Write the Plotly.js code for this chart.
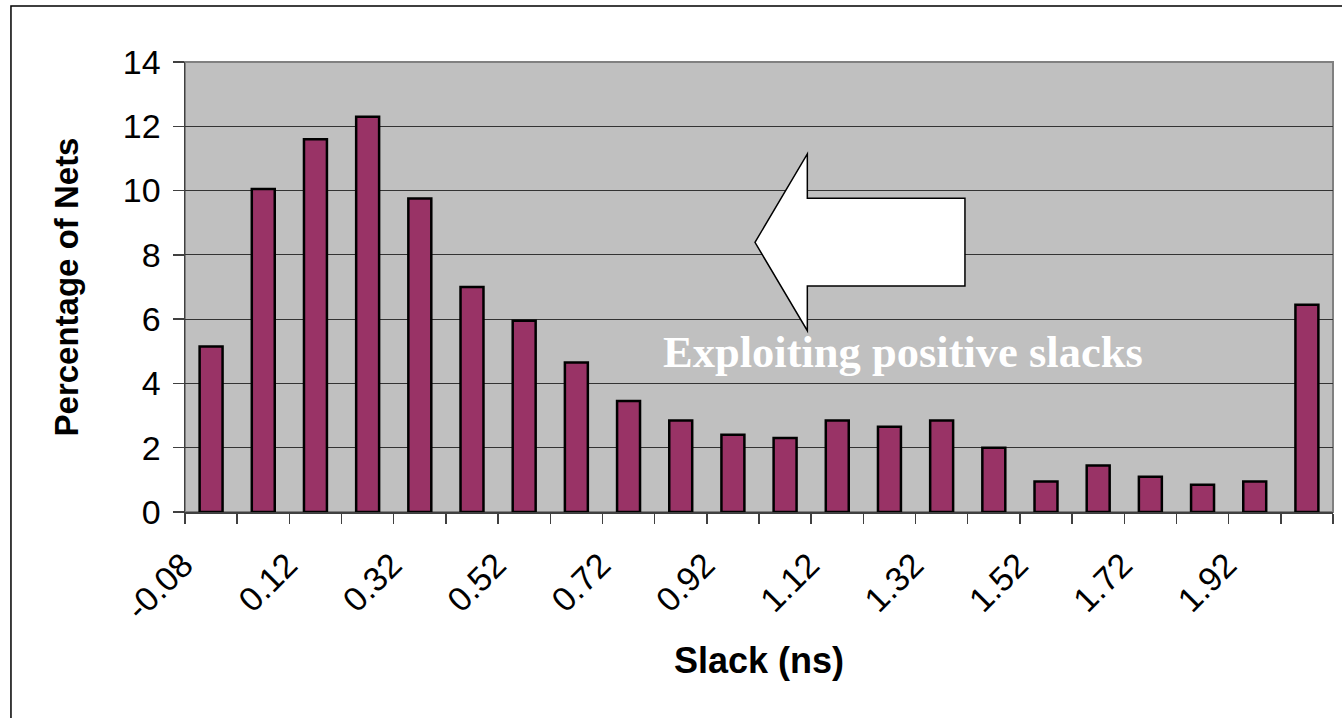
<!DOCTYPE html>
<html>
<head>
<meta charset="utf-8">
<script src="https://cdn.plot.ly/plotly-3.0.1.min.js"></script>
<style>
  html, body { margin: 0; padding: 0; background: #fff; }
  #chart { width: 1342px; height: 718px; }
</style>
</head>
<body>
<div id="chart"></div>
<script>
// Slack histogram bins (ns) and the share of nets falling in each bin (%)
const slackLabels = ['-0.08', '0.02', '0.12', '0.22', '0.32', '0.42', '0.52', '0.62', '0.72', '0.82', '0.92',
                     '1.02', '1.12', '1.22', '1.32', '1.42', '1.52', '1.62', '1.72', '1.82', '1.92', '2.02'];
const netPercent = [5.15, 10.05, 11.6, 12.3, 9.75, 7.0, 5.95, 4.65, 3.45, 2.85, 2.4,
                    2.3, 2.85, 2.65, 2.85, 2.0, 0.95, 1.45, 1.1, 0.85, 0.95, 6.45];
const yTickValues = [0, 2, 4, 6, 8, 10, 12, 14];

const binIndex = slackLabels.map((_, i) => i);
const labelledBins = binIndex.filter(i => i % 2 === 0);
const binEdges = binIndex.map(i => i - 0.5).concat([slackLabels.length - 0.5]);

const sans = 'Arial, "Liberation Sans", sans-serif';
const serif = '"Times New Roman", "Liberation Serif", serif';

const trace = {
  type: 'bar',
  x: binIndex,
  y: netPercent,
  width: 0.44,
  marker: { color: '#993366', line: { color: '#000000', width: 2.5 } },
  hoverinfo: 'skip'
};

// Block arrow pointing towards the small-slack side (paper coordinates)
const arrowPath = 'M 0.4965 0.5993 L 0.5421 0.7956 L 0.5421 0.6971 L 0.6794 0.6971 ' +
                  'L 0.6794 0.5022 L 0.5421 0.5022 L 0.5421 0.4029 Z';

const layout = {
  width: 1342,
  height: 718,
  margin: { l: 185, r: 9, t: 62, b: 206, pad: 0 },
  paper_bgcolor: '#ffffff',
  plot_bgcolor: '#c0c0c0',
  showlegend: false,
  font: { family: sans, color: '#000000' },
  xaxis: {
    range: [-0.5, slackLabels.length - 0.5],
    tickmode: 'array',
    tickvals: labelledBins,
    ticktext: labelledBins.map(i => slackLabels[i]),
    tickangle: -45,
    ticks: '',
    ticklabelshift: -28,
    ticklabelstandoff: 18,
    tickfont: { family: sans, size: 34, color: '#000000' },
    minor: { tickmode: 'array', tickvals: binEdges, ticks: 'outside', ticklen: 10, tickwidth: 1.5, tickcolor: '#404040', showgrid: false },
    showgrid: false,
    zeroline: false,
    showline: true,
    linecolor: '#404040',
    linewidth: 1.5,
    fixedrange: true,
    automargin: false,
    title: { text: 'Slack (ns)', font: { family: sans, size: 36, weight: 'bold', color: '#000000' }, standoff: 21 }
  },
  yaxis: {
    range: [0, 14],
    tickmode: 'array',
    tickvals: yTickValues,
    ticktext: yTickValues.map(String),
    ticks: 'outside',
    ticklen: 11,
    tickwidth: 1.5,
    tickcolor: '#404040',
    ticklabelstandoff: 5,
    tickfont: { family: sans, size: 34, color: '#000000' },
    showgrid: true,
    gridcolor: '#333333',
    gridwidth: 1,
    zeroline: false,
    showline: true,
    linecolor: '#404040',
    linewidth: 1.5,
    fixedrange: true,
    automargin: false,
    title: { text: 'Percentage of Nets', font: { family: sans, size: 33, weight: 'bold', color: '#000000' }, standoff: 34 }
  },
  shapes: [
    // outer chart frame
    { type: 'rect', xref: 'paper', yref: 'paper', x0: -0.1516, x1: 1.02, y0: -0.48, y1: 1.1244,
      line: { color: '#000000', width: 1.5 }, fillcolor: 'rgba(0,0,0,0)', layer: 'below' },
    // plot area border
    { type: 'rect', xref: 'paper', yref: 'paper', x0: 0, x1: 1, y0: 0, y1: 1,
      line: { color: '#808080', width: 2 }, fillcolor: 'rgba(0,0,0,0)', layer: 'below' },
    { type: 'path', xref: 'paper', yref: 'paper', path: arrowPath,
      fillcolor: '#ffffff', line: { color: '#000000', width: 1.5 }, layer: 'above' }
  ],
  annotations: [
    { xref: 'paper', yref: 'paper', x: 0.6254, y: 0.3556, xanchor: 'center', yanchor: 'middle',
      text: 'Exploiting positive slacks', showarrow: false,
      font: { family: serif, size: 44.5, weight: 'bold', color: '#ffffff' } }
  ]
};

Plotly.newPlot('chart', [trace], layout, { displayModeBar: false, staticPlot: true });
</script>
</body>
</html>
